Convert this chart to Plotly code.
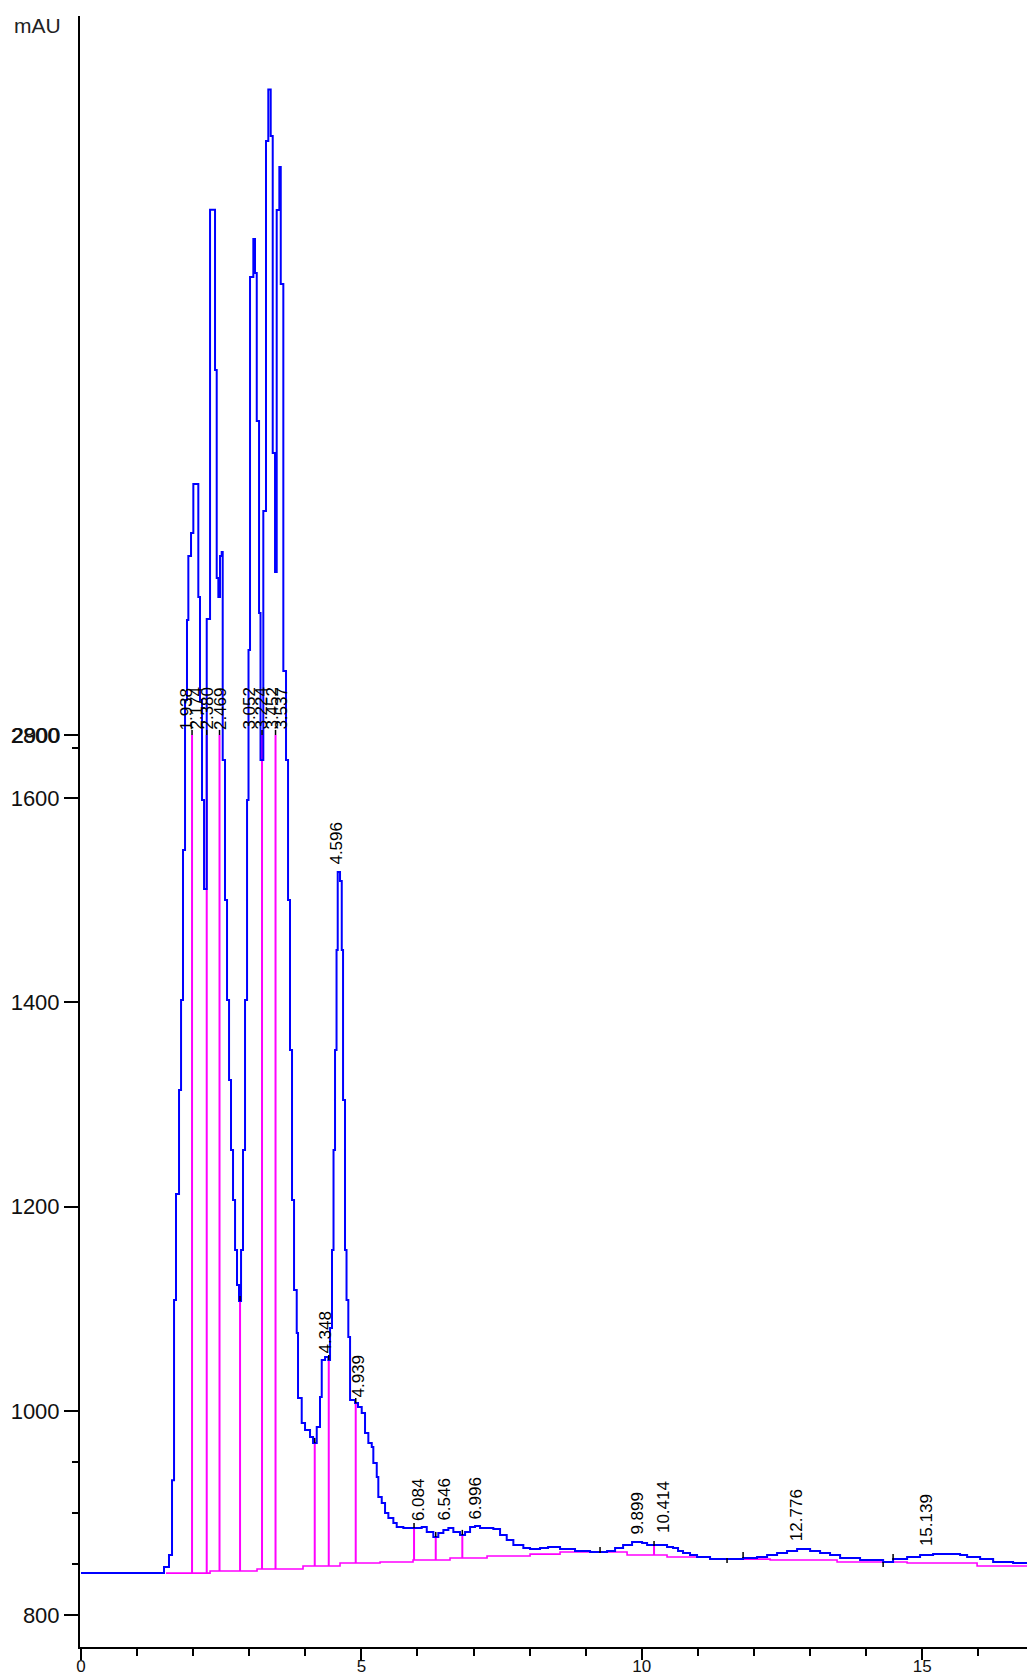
import numpy as np
import plotly.graph_objects as go

# ---- signal (step samples): retention time [min], response [mAU, display scale]
sig_t = [0.0, 1.480, 1.569, 1.623, 1.659, 1.694, 1.748, 1.784, 1.819, 1.855, 1.890, 1.914, 1.962, 2.003,
         2.092, 2.122, 2.158, 2.194, 2.242, 2.301, 2.390, 2.420, 2.449, 2.479, 2.509, 2.527, 2.568,
         2.604, 2.640, 2.675, 2.711, 2.747, 2.782, 2.818, 2.854, 2.889, 2.925, 2.961, 2.987, 3.014,
         3.073, 3.103, 3.134, 3.175, 3.201, 3.251, 3.299, 3.340, 3.383, 3.419, 3.460, 3.490, 3.537,
         3.562, 3.608, 3.656, 3.692, 3.727, 3.763, 3.799, 3.847, 3.870, 3.936, 3.995, 4.084, 4.138,
         4.204, 4.262, 4.293, 4.352, 4.410, 4.441, 4.476, 4.503, 4.530, 4.557, 4.578, 4.619, 4.650,
         4.673, 4.708, 4.735, 4.767, 4.798, 4.887, 4.940, 5.006, 5.065, 5.124, 5.185, 5.213, 5.274,
         5.302, 5.363, 5.422, 5.481, 5.570, 5.630, 5.748, 6.076, 6.166, 6.283, 6.372, 6.462, 6.551,
         6.640, 6.759, 6.849, 6.938, 7.027, 7.116, 7.353, 7.473, 7.592, 7.710, 7.888, 8.008, 8.186,
         8.329, 8.543, 8.810, 9.078, 9.381, 9.524, 9.667, 9.827, 10.006, 10.095, 10.451, 10.558,
         10.647, 10.736, 10.861, 10.986, 11.218, 11.807, 12.056, 12.235, 12.413, 12.591, 12.770,
         13.002, 13.180, 13.358, 13.537, 13.893, 14.304, 14.482, 14.732, 14.963, 15.195, 15.677,
         15.802, 16.034, 16.266, 16.622, 16.87]
sig_v = [841.1, 847.0, 858.8, 932.0, 1108.5, 1212.3, 1314.2, 1402.3, 1549.2, 1696.2, 1774.5, 1837.2, 1859.7, 1907.7,
         1797.0, 1696.2, 1598.2, 1511.0, 1775.5, 2176.4, 2019.3, 1815.6, 1797.0, 1837.2, 1841.1, 1637.4, 1500.3,
         1402.3, 1324.0, 1255.4, 1206.5, 1157.5, 1123.2, 1107.5, 1157.5, 1255.4, 1402.3, 1598.2, 1745.1, 2110.4,
         2147.7, 2114.4, 1969.4, 1781.4, 1637.4, 1881.3, 2243.6, 2294.1, 2248.5, 1938.1, 1821.5, 2176.1, 2218.2,
         2103.6, 1724.6, 1637.4, 1500.3, 1353.4, 1206.5, 1118.3, 1076.2, 1012.5, 988.0, 981.2, 974.3, 968.5,
         984.1, 1013.5, 1049.7, 1052.7, 1049.7, 1081.1, 1157.5, 1255.4, 1353.4, 1451.3, 1527.7, 1518.9, 1451.3,
         1304.4, 1157.5, 1108.5, 1072.3, 1010.6, 1007.6, 1003.7, 997.8, 978.3, 968.5, 964.5, 948.9, 935.2,
         915.6, 909.7, 899.9, 895.0, 890.1, 886.2, 885.2, 886.2, 881.3, 876.4, 880.3, 883.2, 885.2,
         881.3, 878.4, 881.3, 886.2, 887.2, 885.2, 884.2, 878.4, 873.5, 868.6, 865.6, 864.6, 865.6,
         866.6, 864.6, 862.7, 861.7, 862.7, 865.6, 868.6, 871.5, 870.5, 868.6, 866.6, 865.6,
         862.7, 860.7, 858.8, 856.8, 854.8, 855.8, 856.8, 858.8, 860.7, 862.7, 864.6,
         862.7, 860.7, 858.8, 855.8, 853.9, 851.9, 854.8, 856.8, 858.8, 859.7, 858.8,
         856.8, 854.8, 851.9, 850.9, 850.0]

# ---- integration baseline (step)
base_t = [1.516, 2.301, 3.139, 3.959, 4.619, 5.333, 5.921, 6.581, 7.241, 8.008, 8.543, 9.738,
          10.451, 11.218, 12.289, 13.483, 14.732, 15.980, 16.87]
base_v = [841.1, 843.1, 845.1, 848.0, 850.9, 851.9, 853.9, 855.8, 857.8, 859.7, 861.7, 858.8,
          856.8, 854.8, 853.9, 851.9, 850.9, 848.0, 848.0]

# ---- peak drop lines: time and top value
drop_t = [1.980, 2.242, 2.470, 2.836, 3.228, 3.469, 4.168, 4.418, 4.899, 5.939, 6.326, 6.800, 10.219]
drop_top = [1661.9, 1661.9, 1661.9, 1107.5, 1661.9, 1661.9, 968.5, 1049.7, 1007.6, 885.2, 876.4, 878.4, 867.6]

# ---- baseline event ticks
ev_t = [9.256, 11.521, 11.807, 14.304, 14.482]
ev_lo = [860.7, 850.9, 855.8, 847.0, 853.9]
ev_hi = [866.6, 855.8, 861.7, 851.9, 859.7]

# ---- peak labels
lab_text = ["1.938", "2.174", "2.380", "2.469", "3.052", "3.224", "3.452", "3.537",
            "4.348", "4.596", "4.939", "6.084", "6.546", "6.996", "9.899", "10.414", "12.776", "15.139"]
lab_t = [1.890, 2.069, 2.265, 2.488, 3.014, 3.228, 3.424, 3.585,
         4.352, 4.548, 4.940, 6.019, 6.492, 7.027, 9.916, 10.398, 12.752, 15.070]
lab_v = [1664.8] * 8 + [1053.7, 1532.6, 1010.6, 890.1, 890.1, 891.1, 876.4, 878.4, 870.5, 865.6]

# ---- axis ticks
x_ticks = [0, 5, 10, 15]
y_ticks = [800, 1000, 1200, 1400, 1600, 1661.9]
y_ticktext = ["800", "1000", "1200", "1400", "1600", "2800"]
y_minor = [850, 900, 950, 1649.1]
y_overlap_val = [1661.9]
y_overlap_text = ["2900"]

FONT = "Liberation Sans, Arial, sans-serif"
BLUE = "#0000FF"
MAG = "#FF00FF"


def base_at(t):
    i = int(np.searchsorted(base_t, t, side="right")) - 1
    i = max(0, min(i, len(base_v) - 1))
    return base_v[i]


dx, dy = [], []
for t, top in zip(drop_t, drop_top):
    dx += [t, t, None]
    dy += [base_at(t), top, None]

kx, ky = [], []
for t, top in zip(drop_t, drop_top):
    kx += [t, t, None]
    ky += [top, top + 5, None]
for t, lo, hi in zip(ev_t, ev_lo, ev_hi):
    kx += [t, t, None]
    ky += [lo, hi, None]

fig = go.Figure()
fig.add_trace(go.Scatter(x=base_t, y=base_v, mode="lines", line=dict(color=MAG, width=1.6, shape="hv"),
                         hoverinfo="skip", showlegend=False))
fig.add_trace(go.Scatter(x=dx, y=dy, mode="lines", line=dict(color=MAG, width=2),
                         hoverinfo="skip", showlegend=False))
fig.add_trace(go.Scatter(x=sig_t, y=sig_v, mode="lines", line=dict(color=BLUE, width=2, shape="hv"),
                         showlegend=False))
fig.add_trace(go.Scatter(x=kx, y=ky, mode="lines", line=dict(color="black", width=1.5),
                         hoverinfo="skip", showlegend=False))
fig.add_trace(go.Scatter(x=[0], y=[800], yaxis="y2", mode="lines", opacity=0,
                         hoverinfo="skip", showlegend=False))

for txt, t, v in zip(lab_text, lab_t, lab_v):
    fig.add_annotation(x=t, y=v, text=txt, showarrow=False, textangle=-90,
                       xanchor="center", yanchor="bottom",
                       font=dict(family=FONT, size=17, color="black"))

fig.add_annotation(xref="paper", yref="paper", x=-0.0718, y=1.0025, text="mAU", showarrow=False,
                   xanchor="left", yanchor="top", font=dict(family=FONT, size=21, color="#222"))

yr = [768.7, 2366.1]
fig.update_layout(
    width=1027, height=1679, autosize=False,
    margin=dict(l=80, r=0, t=16, b=32, pad=0),
    plot_bgcolor="white", paper_bgcolor="white",
    xaxis=dict(range=[-0.018, 16.87], tickmode="array", tickvals=x_ticks, automargin=False,
               ticks="outside", ticklen=11, tickwidth=2, tickcolor="black", ticklabelstandoff=-8,
               minor=dict(dtick=1, tick0=0, ticks="outside", ticklen=7, tickwidth=2, tickcolor="black"),
               showline=True, linewidth=2, linecolor="black", showgrid=False, zeroline=False,
               tickfont=dict(family=FONT, size=17, color="#111")),
    yaxis=dict(range=yr, tickmode="array", tickvals=y_ticks, ticktext=y_ticktext, automargin=False,
               ticks="outside", ticklen=14, tickwidth=2, tickcolor="black",
               minor=dict(tickmode="array", tickvals=y_minor, ticks="outside", ticklen=6,
                          tickwidth=2, tickcolor="black"),
               showline=True, linewidth=2, linecolor="black", showgrid=False, zeroline=False,
               tickfont=dict(family=FONT, size=22, color="#111")),
    yaxis2=dict(range=yr, overlaying="y", side="left", tickmode="array", tickvals=y_overlap_val,
                ticktext=y_overlap_text, ticks="outside", ticklen=14, tickwidth=2, tickcolor="black",
                showline=False, showgrid=False, zeroline=False, automargin=False,
                tickfont=dict(family=FONT, size=22, color="#111")),
)

fig.write_html("out.html", config={"displayModeBar": False},
               post_script="document.body.style.margin='0px';document.body.style.overflow='hidden';")
